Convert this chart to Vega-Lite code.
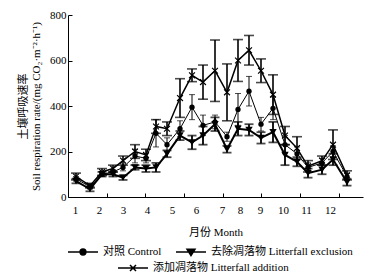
{
  "$schema": "https://vega.github.io/schema/vega-lite/v6.json",
  "width": 295,
  "height": 182,
  "padding": {"left": 17, "top": 9, "right": 1, "bottom": 0},
  "background": "white",
  "config": {
    "font": "Liberation Serif, Noto Sans CJK SC",
    "view": {"stroke": null},
    "axis": {"domainColor": "black", "tickColor": "black", "labelColor": "black", "titleColor": "black", "grid": false, "labelFontSize": 11, "titleFontSize": 11, "titleFontWeight": "normal"},
    "legend": {"labelFontSize": 11, "labelColor": "black", "labelLimit": 300}
  },
  "data": {
    "values": [
      {"t": 8, "series": "对照 Control", "mean": 80, "err": 10},
      {"t": 22, "series": "对照 Control", "mean": 45, "err": 10},
      {"t": 34, "series": "对照 Control", "mean": 100, "err": 10},
      {"t": 45, "series": "对照 Control", "mean": 110, "err": 10},
      {"t": 55, "series": "对照 Control", "mean": 130, "err": 15},
      {"t": 67, "series": "对照 Control", "mean": 180, "err": 30},
      {"t": 78, "series": "对照 Control", "mean": 170, "err": 20},
      {"t": 88, "series": "对照 Control", "mean": 280, "err": 60},
      {"t": 99, "series": "对照 Control", "mean": 230, "err": 30},
      {"t": 112, "series": "对照 Control", "mean": 300, "err": 35},
      {"t": 124, "series": "对照 Control", "mean": 395, "err": 55},
      {"t": 135, "series": "对照 Control", "mean": 315, "err": 45},
      {"t": 147, "series": "对照 Control", "mean": 330, "err": 30},
      {"t": 159, "series": "对照 Control", "mean": 265, "err": 20},
      {"t": 170, "series": "对照 Control", "mean": 385, "err": 70},
      {"t": 181, "series": "对照 Control", "mean": 465, "err": 65},
      {"t": 193, "series": "对照 Control", "mean": 320, "err": 30},
      {"t": 205, "series": "对照 Control", "mean": 390, "err": 50},
      {"t": 217, "series": "对照 Control", "mean": 230, "err": 40},
      {"t": 229, "series": "对照 Control", "mean": 190, "err": 30},
      {"t": 240, "series": "对照 Control", "mean": 130, "err": 20},
      {"t": 254, "series": "对照 Control", "mean": 150, "err": 20},
      {"t": 265, "series": "对照 Control", "mean": 200, "err": 25},
      {"t": 279, "series": "对照 Control", "mean": 90, "err": 15},
      {"t": 8, "series": "去除凋落物 Litterfall exclusion", "mean": 70, "err": 10},
      {"t": 22, "series": "去除凋落物 Litterfall exclusion", "mean": 35, "err": 10},
      {"t": 34, "series": "去除凋落物 Litterfall exclusion", "mean": 100, "err": 10},
      {"t": 45, "series": "去除凋落物 Litterfall exclusion", "mean": 100, "err": 10},
      {"t": 55, "series": "去除凋落物 Litterfall exclusion", "mean": 85, "err": 10},
      {"t": 67, "series": "去除凋落物 Litterfall exclusion", "mean": 130, "err": 10},
      {"t": 78, "series": "去除凋落物 Litterfall exclusion", "mean": 125, "err": 15},
      {"t": 88, "series": "去除凋落物 Litterfall exclusion", "mean": 130, "err": 20},
      {"t": 99, "series": "去除凋落物 Litterfall exclusion", "mean": 190, "err": 15},
      {"t": 112, "series": "去除凋落物 Litterfall exclusion", "mean": 270, "err": 20},
      {"t": 124, "series": "去除凋落物 Litterfall exclusion", "mean": 240, "err": 30},
      {"t": 135, "series": "去除凋落物 Litterfall exclusion", "mean": 270, "err": 40},
      {"t": 147, "series": "去除凋落物 Litterfall exclusion", "mean": 320, "err": 30},
      {"t": 159, "series": "去除凋落物 Litterfall exclusion", "mean": 210, "err": 15},
      {"t": 170, "series": "去除凋落物 Litterfall exclusion", "mean": 300, "err": 30},
      {"t": 181, "series": "去除凋落物 Litterfall exclusion", "mean": 295, "err": 25},
      {"t": 193, "series": "去除凋落物 Litterfall exclusion", "mean": 260, "err": 25},
      {"t": 205, "series": "去除凋落物 Litterfall exclusion", "mean": 285, "err": 45},
      {"t": 217, "series": "去除凋落物 Litterfall exclusion", "mean": 185, "err": 45},
      {"t": 229, "series": "去除凋落物 Litterfall exclusion", "mean": 155, "err": 20},
      {"t": 240, "series": "去除凋落物 Litterfall exclusion", "mean": 105, "err": 20},
      {"t": 254, "series": "去除凋落物 Litterfall exclusion", "mean": 120, "err": 20},
      {"t": 265, "series": "去除凋落物 Litterfall exclusion", "mean": 165, "err": 25},
      {"t": 279, "series": "去除凋落物 Litterfall exclusion", "mean": 65, "err": 15},
      {"t": 8, "series": "添加凋落物 Litterfall addition", "mean": 90, "err": 15},
      {"t": 22, "series": "添加凋落物 Litterfall addition", "mean": 50, "err": 10},
      {"t": 34, "series": "添加凋落物 Litterfall addition", "mean": 110, "err": 15},
      {"t": 45, "series": "添加凋落物 Litterfall addition", "mean": 125, "err": 15},
      {"t": 55, "series": "添加凋落物 Litterfall addition", "mean": 160, "err": 20},
      {"t": 67, "series": "添加凋落物 Litterfall addition", "mean": 200, "err": 30},
      {"t": 78, "series": "添加凋落物 Litterfall addition", "mean": 185, "err": 25},
      {"t": 88, "series": "添加凋落物 Litterfall addition", "mean": 310, "err": 30},
      {"t": 99, "series": "添加凋落物 Litterfall addition", "mean": 300, "err": 30},
      {"t": 112, "series": "添加凋落物 Litterfall addition", "mean": 435, "err": 85},
      {"t": 124, "series": "添加凋落物 Litterfall addition", "mean": 535, "err": 28},
      {"t": 135, "series": "添加凋落物 Litterfall addition", "mean": 505, "err": 75},
      {"t": 147, "series": "添加凋落物 Litterfall addition", "mean": 555, "err": 135},
      {"t": 159, "series": "添加凋落物 Litterfall addition", "mean": 460, "err": 125},
      {"t": 170, "series": "添加凋落物 Litterfall addition", "mean": 600, "err": 92},
      {"t": 181, "series": "添加凋落物 Litterfall addition", "mean": 645, "err": 65},
      {"t": 193, "series": "添加凋落物 Litterfall addition", "mean": 555, "err": 52},
      {"t": 205, "series": "添加凋落物 Litterfall addition", "mean": 450, "err": 87},
      {"t": 217, "series": "添加凋落物 Litterfall addition", "mean": 270, "err": 40},
      {"t": 229, "series": "添加凋落物 Litterfall addition", "mean": 215, "err": 50},
      {"t": 240, "series": "添加凋落物 Litterfall addition", "mean": 135, "err": 25},
      {"t": 254, "series": "添加凋落物 Litterfall addition", "mean": 160, "err": 20},
      {"t": 265, "series": "添加凋落物 Litterfall addition", "mean": 230, "err": 65},
      {"t": 279, "series": "添加凋落物 Litterfall addition", "mean": 95, "err": 20}
    ]
  },
  "encoding": {
    "x": {
      "field": "t", "type": "quantitative",
      "scale": {"domain": [0, 295], "nice": false, "zero": false},
      "axis": {
        "title": "月份 Month",
        "titlePadding": 11,
        "values": [7, 31, 55, 79, 104, 128, 154, 172, 192, 215, 238, 262, 39, 77, 116, 155, 193, 232, 271],
        "labelExpr": "['1','2','3','4','5','6','7','8','9','10','11','12'][indexof([7,31,55,79,104,128,154,172,192,215,238,262], datum.value)] || ''",
        "tickOpacity": {"condition": {"test": "indexof([39,77,116,155,193,232,271], datum.value) < 0", "value": 0}, "value": 1},
        "tickSize": -4,
        "labelPadding": 11,
        "labelOverlap": false,
        "labelBound": false,
        "labelFlush": false
      }
    },
    "y": {
      "field": "mean", "type": "quantitative",
      "scale": {"domain": [0, 800], "nice": false},
      "axis": {
        "title": ["土壤呼吸速率", "Soil respiration rate/(mg CO₂·m⁻²·h⁻¹)"],
        "values": [0, 200, 400, 600, 800],
        "tickSize": -4,
        "labelPadding": 6,
        "titlePadding": 8
      }
    }
  },
  "layer": [
    {
      "transform": [{"filter": "datum.series === '对照 Control'"}],
      "mark": {"type": "errorbar", "color": "black", "thickness": 1, "ticks": {"size": 6}},
      "encoding": {"yError": {"field": "err"}}
    },
    {
      "transform": [{"filter": "datum.series === '去除凋落物 Litterfall exclusion'"}],
      "mark": {"type": "errorbar", "color": "black", "thickness": 1.8, "ticks": {"size": 9}},
      "encoding": {"yError": {"field": "err"}}
    },
    {
      "transform": [{"filter": "datum.series === '添加凋落物 Litterfall addition'"}],
      "mark": {"type": "errorbar", "color": "black", "thickness": 1.6, "ticks": {"size": 10}},
      "encoding": {"yError": {"field": "err"}}
    },
    {
      "transform": [{"filter": "datum.series === '对照 Control'"}],
      "mark": {"type": "line", "color": "black", "strokeWidth": 1}
    },
    {
      "transform": [{"filter": "datum.series === '去除凋落物 Litterfall exclusion'"}],
      "mark": {"type": "line", "color": "black", "strokeWidth": 2}
    },
    {
      "transform": [{"filter": "datum.series === '添加凋落物 Litterfall addition'"}],
      "mark": {"type": "line", "color": "black", "strokeWidth": 1.5}
    },
    {
      "transform": [{"filter": "datum.series === '对照 Control'"}],
      "mark": {"type": "point", "shape": "circle", "filled": true, "color": "black", "size": 28, "opacity": 1}
    },
    {
      "transform": [{"filter": "datum.series === '去除凋落物 Litterfall exclusion'"}],
      "mark": {"type": "point", "shape": "triangle-down", "filled": true, "color": "black", "size": 55, "opacity": 1}
    },
    {
      "transform": [{"filter": "datum.series === '添加凋落物 Litterfall addition'"}],
      "mark": {"type": "point", "shape": "M-1,-1L1,1M-1,1L1,-1", "filled": false, "color": "black", "strokeWidth": 1.2, "size": 34, "opacity": 1}
    },
    {
      "transform": [{"filter": "datum.series === '对照 Control'"}],
      "mark": {"type": "point", "filled": true, "opacity": 0},
      "encoding": {
        "color": {
          "field": "series", "type": "nominal",
          "scale": {"domain": ["对照 Control"], "range": ["black"]},
          "legend": {
            "title": null,
            "orient": "none",
            "legendX": -1,
            "legendY": 221,
            "symbolSize": 900,
            "symbolType": "M-1,0H1M-0.2,0A0.2,0.2 0 1,1 0.2,0A0.2,0.2 0 1,1 -0.2,0Z",
            "encode": {"symbols": {"update": {"fill": {"value": "black"}, "stroke": {"value": "black"}, "strokeWidth": {"value": 1.3}, "opacity": {"value": 1}}}}
          }
        }
      }
    },
    {
      "transform": [{"filter": "datum.series === '去除凋落物 Litterfall exclusion'"}],
      "mark": {"type": "point", "filled": true, "opacity": 0},
      "encoding": {
        "fill": {
          "field": "series", "type": "nominal",
          "scale": {"domain": ["去除凋落物 Litterfall exclusion"], "range": ["black"]},
          "legend": {
            "title": null,
            "orient": "none",
            "legendX": 107,
            "legendY": 221,
            "symbolSize": 900,
            "symbolType": "M-1,0H1M-0.26,-0.18L0.26,-0.18L0,0.24Z",
            "encode": {"symbols": {"update": {"fill": {"value": "black"}, "stroke": {"value": "black"}, "strokeWidth": {"value": 1.6}, "opacity": {"value": 1}}}}
          }
        }
      }
    },
    {
      "transform": [{"filter": "datum.series === '添加凋落物 Litterfall addition'"}],
      "mark": {"type": "point", "filled": true, "opacity": 0},
      "encoding": {
        "stroke": {
          "field": "series", "type": "nominal",
          "scale": {"domain": ["添加凋落物 Litterfall addition"], "range": ["black"]},
          "legend": {
            "title": null,
            "orient": "none",
            "legendX": 49,
            "legendY": 237,
            "symbolSize": 900,
            "symbolType": "M-1,0H1M-0.2,-0.2L0.2,0.2M-0.2,0.2L0.2,-0.2",
            "encode": {"symbols": {"update": {"fill": {"value": "black"}, "stroke": {"value": "black"}, "strokeWidth": {"value": 1.2}, "opacity": {"value": 1}}}}
          }
        }
      }
    }
  ]
}
